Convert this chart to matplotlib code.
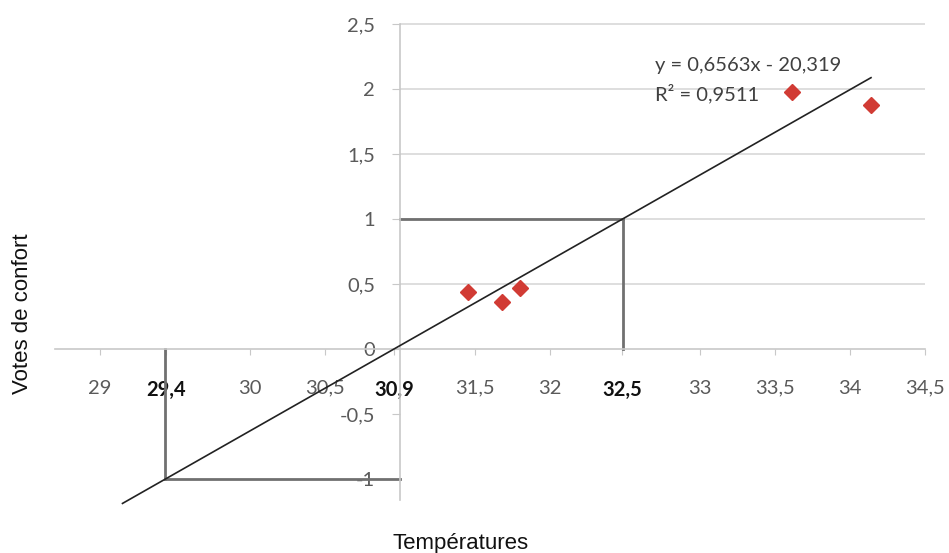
import matplotlib
matplotlib.use("Agg")
import matplotlib.pyplot as plt

# ---- data ----
temps = [31.45, 31.68, 31.80, 33.61, 34.14]
votes = [0.435, 0.36, 0.47, 1.98, 1.88]
slope = 0.6563
intercept = -20.319
r2 = 0.9511
trend_x = [29.15, 34.14]

x_ticks = [29, 29.44, 30, 30.5, 30.96, 31.5, 32, 32.48, 33, 33.5, 34, 34.5]
x_labels = ["29", "29,4", "30", "30,5", "30,9", "31,5", "32", "32,5", "33", "33,5", "34", "34,5"]
bold_labels = ["29,4", "30,9", "32,5"]
y_ticks = [-1, -0.5, 0, 0.5, 1, 1.5, 2, 2.5]
y_labels = ["-1", "-0,5", "0", "0,5", "1", "1,5", "2", "2,5"]
grid_y = [0.5, 1, 1.5, 2, 2.5]

W, H = 949, 553
fig = plt.figure(figsize=(W / 100, H / 100), dpi=100)
ax = fig.add_axes([0, 0, 1, 1])
ax.set_facecolor("white")

# pixel mapping: x=31 -> 400px, 150 px/unit ; y=0 -> 349px, 130 px/unit
ax.set_xlim(31 - 400 / 150, 31 + (W - 400) / 150)
ax.set_ylim(-(H - 349) / 130, 349 / 130)

x_axis_left = 28.7
x_axis_right = 34.5
y_axis_at = 31
y_axis_bottom = -1.16

# gridlines (only right of the vertical axis)
ax.hlines(grid_y, y_axis_at, x_axis_right, colors="#d4d4d4", lw=1.1, zorder=1)

# spines
for s in ["top", "right"]:
    ax.spines[s].set_visible(False)
ax.spines["bottom"].set_position(("data", 0))
ax.spines["left"].set_position(("data", y_axis_at))
ax.spines["bottom"].set_bounds(x_axis_left, x_axis_right)
ax.spines["left"].set_bounds(y_axis_bottom, 2.5)
for s in ["bottom", "left"]:
    ax.spines[s].set_color("#c8c8c8")
    ax.spines[s].set_linewidth(1.2)

ax.set_xticks(x_ticks)
ax.set_xticklabels(x_labels)
ax.set_yticks(y_ticks)
ax.set_yticklabels(y_labels)
ax.tick_params(axis="x", direction="out", length=4, color="#c8c8c8", pad=18,
               labelsize=14.5, labelcolor="#5a5a5a")
ax.tick_params(axis="y", direction="out", length=6, color="#c8c8c8", pad=12,
               labelsize=14.5, labelcolor="#5a5a5a")
for lab in ax.get_xticklabels() + ax.get_yticklabels():
    lab.set_family("Lato")
    if lab.get_text() in bold_labels:
        lab.set_fontweight("bold")
        lab.set_color("#111111")

# guide lines
x_at_1 = (1 - intercept) / slope
x_at_m1 = (-1 - intercept) / slope
gcol = "#707070"
ax.plot([y_axis_at, x_at_1], [1, 1], color=gcol, lw=2, zorder=2)
ax.plot([x_at_1, x_at_1], [0, 1], color=gcol, lw=2, zorder=2)
ax.plot([x_at_m1, y_axis_at], [-1, -1], color=gcol, lw=2, zorder=2)
ax.plot([x_at_m1, x_at_m1], [-1, 0], color=gcol, lw=2, zorder=2)

# trend line
ax.plot(trend_x, [slope * x + intercept for x in trend_x], color="#222222", lw=1.2, zorder=3)

# data points
ax.plot(temps, votes, linestyle="none", marker="D", ms=8, color="#d13b34",
        markeredgecolor="#d13b34", zorder=4)

# equation
ax.text(32.7, 2.18, "y = 0,6563x - 20,319", fontsize=14.5, color="#404040",
        family="Lato", ha="left", va="center")
ax.text(32.7, 1.965, "R² = 0,9511", fontsize=14.5, color="#404040",
        family="Lato", ha="left", va="center")

# axis titles
fig.text(461 / W, 1 - 543 / H, "Températures", fontsize=16, family="Liberation Sans",
         ha="center", va="center", color="#111111")
fig.text(23 / W, 1 - 314 / H, "Votes de confort", fontsize=16, family="Liberation Sans",
         ha="center", va="center", rotation=90, color="#111111")

fig.savefig("out.png", dpi=100, facecolor="white")
